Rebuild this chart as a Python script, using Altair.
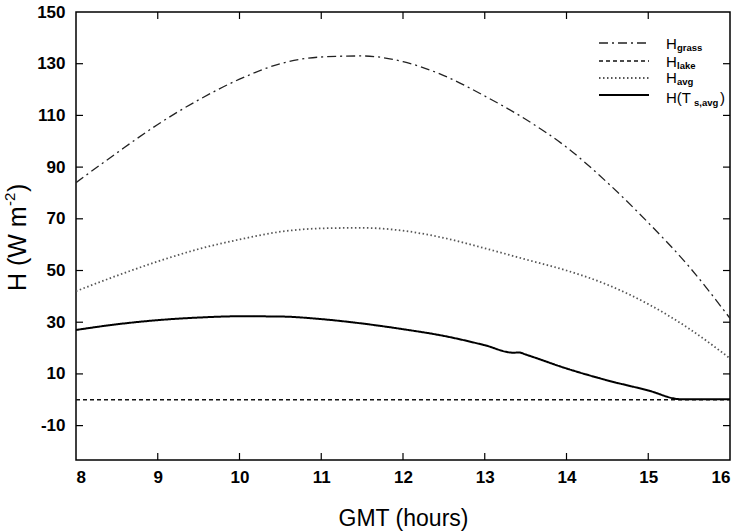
import altair as alt
import pandas as pd

# ---- data ----
grass_hours = [8, 8.5, 9, 9.5, 10, 10.5, 11, 11.5, 12, 12.5, 13, 13.5, 14, 14.5, 15, 15.5, 16]
grass_vals = [84, 95.5, 106.5, 116, 124, 130, 132.6, 133, 130.8, 125.4, 117.5, 108.5, 97.7, 84, 68.5, 51.5, 31.5]

avg_hours = [8, 8.5, 9, 9.5, 10, 10.5, 11, 11.5, 12, 12.5, 13, 13.5, 14, 14.5, 15, 15.5, 16]
avg_vals = [42, 48, 53.5, 58.3, 62, 65, 66.3, 66.5, 65.4, 62.6, 58.6, 54.3, 50, 44.5, 37, 27.5, 16]

ts_hours = [8, 8.5, 9, 9.5, 10, 10.5, 11, 11.5, 12, 12.5, 13, 13.35, 13.42, 13.5, 14, 14.5, 15, 15.4, 16]
ts_vals = [27, 29.2, 30.8, 31.8, 32.3, 32.2, 31.2, 29.5, 27.3, 24.7, 21.1, 18.2, 18.3, 17.5, 12.1, 7.5, 3.6, 0.2, 0.2]

lake_hours = [8, 16]
lake_vals = [0, 0]

series_names = ["grass", "lake", "avg", "ts"]
x_ticks = [8, 9, 10, 11, 12, 13, 14, 15, 16]
x_inner_ticks = [9, 10, 11, 12, 13, 14, 15]
y_ticks = [-10, 10, 30, 50, 70, 90, 110, 130, 150]
y_inner_ticks = [-10, 10, 30, 50, 70, 90, 110, 130]

W, H = 654, 448
FONT = "Liberation Sans"

rows = []
for name, hs, vs in [("grass", grass_hours, grass_vals), ("lake", lake_hours, lake_vals),
                     ("avg", avg_hours, avg_vals), ("ts", ts_hours, ts_vals)]:
    for h, v in zip(hs, vs):
        rows.append({"series": name, "hour": h, "H": v})
df = pd.DataFrame(rows)

xscale = alt.Scale(domain=[8, 16], nice=False, zero=False)
yscale = alt.Scale(domain=[-23.3, 150], nice=False, zero=False)

xaxis = alt.Axis(values=x_ticks, labelExpr="'' + datum.value", ticks=False, domain=False, grid=False,
                 labelFont=FONT, labelFontSize=17, labelFontWeight="bold", labelColor="black",
                 labelPadding=9, title="GMT (hours)", titleFont=FONT, titleFontSize=23,
                 titleFontWeight="normal", titleColor="black", titlePadding=22)
yaxis = alt.Axis(values=y_ticks, labelExpr="'' + datum.value", ticks=False, domain=False, grid=False,
                 labelFont=FONT, labelFontSize=17, labelFontWeight="bold", labelColor="black",
                 labelPadding=11, title=None)

dash_scale = alt.Scale(domain=series_names,
                       range=[[9, 4, 2, 4], [4, 3], [1.5, 2.5], [1, 0]])
color_scale = alt.Scale(domain=series_names, range=["#222222", "#111111", "#555555", "#000000"])
width_scale = alt.Scale(domain=series_names, range=[1.3, 2.0, 1.2, 2.6])


def line_layer(name, interp):
    return alt.Chart(df[df.series == name]).mark_line(interpolate=interp, clip=True).encode(
        x=alt.X("hour:Q", scale=xscale, axis=xaxis),
        y=alt.Y("H:Q", scale=yscale, axis=yaxis),
        strokeDash=alt.StrokeDash("series:N", scale=dash_scale, legend=None),
        color=alt.Color("series:N", scale=color_scale, legend=None),
        strokeWidth=alt.StrokeWidth("series:N", scale=width_scale, legend=None),
    )


lines = [line_layer("lake", "linear"), line_layer("avg", "monotone"),
         line_layer("grass", "monotone"), line_layer("ts", "monotone")]

# inward ticks on all four sides
xt = pd.DataFrame({"t": x_inner_ticks})
yt = pd.DataFrame({"t": y_inner_ticks})
tick_kw = dict(color="black", strokeWidth=1.2)
bot_ticks = alt.Chart(xt).mark_rule(**tick_kw).encode(
    x=alt.X("t:Q", scale=xscale), y=alt.value(H), y2=alt.value(H - 7))
top_ticks = alt.Chart(xt).mark_rule(**tick_kw).encode(
    x=alt.X("t:Q", scale=xscale), y=alt.value(0), y2=alt.value(7))
left_ticks = alt.Chart(yt).mark_rule(**tick_kw).encode(
    y=alt.Y("t:Q", scale=yscale), x=alt.value(0), x2=alt.value(7))
right_ticks = alt.Chart(yt).mark_rule(**tick_kw).encode(
    y=alt.Y("t:Q", scale=yscale), x=alt.value(W), x2=alt.value(W - 7))

# custom legend (subscripts)
leg_rows = {"grass": 31, "lake": 49, "avg": 66, "ts": 83}
legend_layers = []
for name, ly in leg_rows.items():
    legend_layers.append(
        alt.Chart(pd.DataFrame({"series": [name]})).mark_rule().encode(
            x=alt.value(523), x2=alt.value(573), y=alt.value(ly),
            strokeDash=alt.StrokeDash("series:N", scale=dash_scale, legend=None),
            color=alt.Color("series:N", scale=color_scale, legend=None),
            strokeWidth=alt.StrokeWidth("series:N", scale=width_scale, legend=None),
        )
    )

leg_texts = [
    ("H", 590, 32, 15),
    ("grass", 601, 36, 9.5),
    ("H", 590, 50, 15),
    ("lake", 601, 54, 9.5),
    ("H", 590, 66, 15),
    ("avg", 601, 70, 9.5),
    ("H(T", 590, 86, 15),
    ("s,avg", 618, 91, 9.5),
    (")", 644, 86, 15),
]
for txt, lx, ly, fs in leg_texts:
    legend_layers.append(
        alt.Chart(pd.DataFrame({"label": [txt]})).mark_text(
            align="left", baseline="middle", font=FONT, fontSize=fs, color="black",
            fontWeight="bold" if fs < 12 else "normal"
        ).encode(text="label:N", x=alt.value(lx), y=alt.value(ly))
    )

# y-axis title with superscript, built from rotated text pieces
ytitle_parts = [
    ("H (W m", -58, 279, 25),
    ("-2", -66, 194, 15),
    (")", -58, 180, 25),
]
ytitle_layers = []
for txt, tx, ty, fs in ytitle_parts:
    ytitle_layers.append(
        alt.Chart(pd.DataFrame({"label": [txt]})).mark_text(
            align="left", baseline="middle", angle=270, font=FONT, fontSize=fs, color="black"
        ).encode(text="label:N", x=alt.value(tx), y=alt.value(ty))
    )

chart = alt.layer(
    *lines, bot_ticks, top_ticks, left_ticks, right_ticks, *legend_layers, *ytitle_layers
).properties(
    width=W, height=H,
    autosize=alt.AutoSizeParams(type="none"),
    padding={"left": 76, "top": 12, "right": 14, "bottom": 72},
    background="white",
).configure_view(stroke="black", strokeWidth=1.5)

chart.save("out.html", embed_options={"renderer": "svg", "actions": False})
